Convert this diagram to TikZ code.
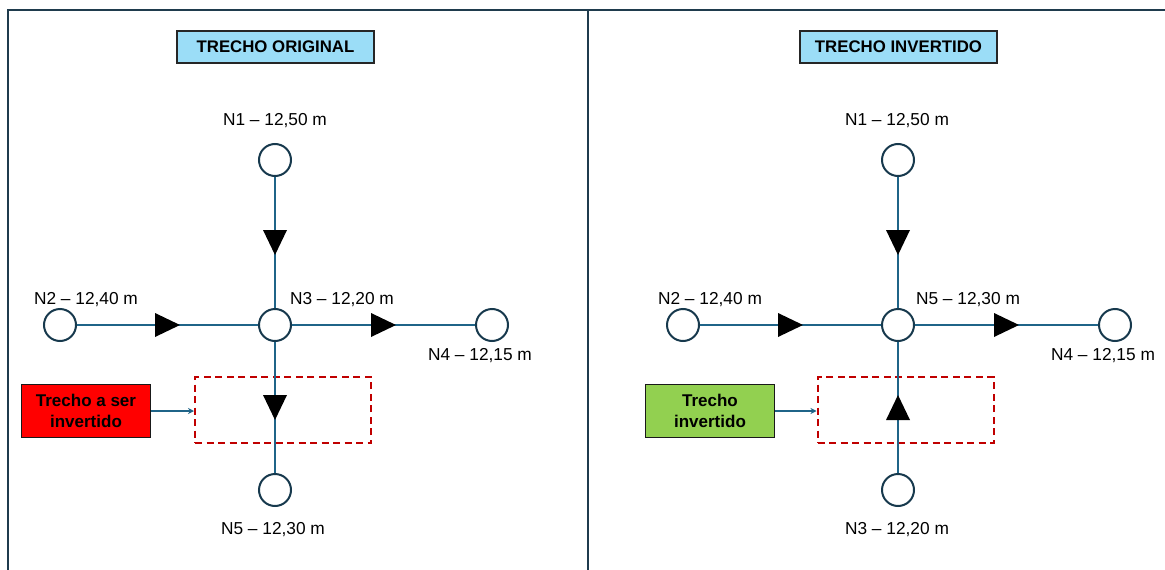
\documentclass[tikz,border=0pt]{standalone}
\usepackage{fontspec}
\setmainfont{Liberation Sans}
\usetikzlibrary{arrows.meta,decorations.markings}

\definecolor{framec}{HTML}{1F3B4D}
\definecolor{pipec}{HTML}{1F6488}
\definecolor{ringc}{HTML}{17394D}
\definecolor{titlefill}{HTML}{9BDDF7}
\definecolor{dashred}{HTML}{C00000}
\definecolor{callred}{HTML}{FF0000}
\definecolor{callgreen}{HTML}{92D050}

\tikzset{
  manhole/.style={circle, draw=ringc, line width=2pt, fill=white,
    minimum size=32pt, inner sep=0pt},
  pipe/.style={draw=pipec, line width=2pt,
    decoration={markings, mark=at position 0.5 with
      {\fill[black] (-12.5pt,-12pt) -- (12.5pt,0pt) -- (-12.5pt,12pt) -- cycle;}},
    postaction={decorate}},
  lbl/.style={font=\fontsize{17.3}{20}\selectfont, inner sep=0pt},
  titlebox/.style={draw=black!85, fill=titlefill, line width=1.2pt,
    minimum width=197pt, minimum height=32pt, inner sep=0pt,
    font=\fontsize{16.8}{19}\selectfont\bfseries},
  callbox/.style={draw=black!90, line width=1.5pt, minimum width=129pt,
    minimum height=53pt, inner sep=0pt, align=center,
    font=\fontsize{17}{21}\selectfont\bfseries},
  zone/.style={draw=dashred, line width=2pt, dash pattern=on 7pt off 4.5pt,
    minimum width=176pt, minimum height=66pt, inner sep=0pt},
  callarrow/.style={draw=pipec, line width=1.5pt,
    -{Stealth[length=6pt,width=6pt]}},
  frameline/.style={draw=framec, line width=2pt}
}

\begin{document}
\begin{tikzpicture}[x=1pt,y=-1pt]
\useasboundingbox (0,0) rectangle (1165,570);

% panel frame and divider
\draw[frameline] (8,570) -- (8,10) -- (1165,10);
\draw[frameline] (588,10) -- (588,570);

% ---------------- original layout ----------------
\node[titlebox] (tA) at (275.5,47) {TRECHO ORIGINAL};

\node[zone] (zA) at (283,410) {};

\node[manhole] (a1) at (275,160) {};
\node[manhole] (a2) at (60,325) {};
\node[manhole] (a3) at (275,325) {};
\node[manhole] (a4) at (492,325) {};
\node[manhole] (a5) at (275,490) {};

\draw[pipe] (a1) -- (a3);
\draw[pipe] (a2) -- (a3);
\draw[pipe] (a3) -- (a4);
\draw[pipe] (a3) -- (a5);

\node[lbl] (la1) at (275,121) {N1 – 12,50 m};
\node[lbl] (la2) at (86,300) {N2 – 12,40 m};
\node[lbl] (la3) at (342,300) {N3 – 12,20 m};
\node[lbl] (la4) at (480,356) {N4 – 12,15 m};
\node[lbl] (la5) at (273,530) {N5 – 12,30 m};

\node[callbox, fill=callred] (cA) at (86,411) {Trecho a ser\\invertido};
\draw[callarrow] (cA.east) -- (cA.east -| zA.west);

% ---------------- inverted layout ----------------
\node[titlebox] (tB) at (898.5,47) {TRECHO INVERTIDO};

\node[zone] (zB) at (905.5,410) {};

\node[manhole] (b1) at (898,160) {};
\node[manhole] (b2) at (683,325) {};
\node[manhole] (b5) at (898,325) {};
\node[manhole] (b4) at (1115,325) {};
\node[manhole] (b3) at (898,490) {};

\draw[pipe] (b1) -- (b5);
\draw[pipe] (b2) -- (b5);
\draw[pipe] (b5) -- (b4);
\draw[pipe] (b3) -- (b5);

\node[lbl] (lb1) at (897,121) {N1 – 12,50 m};
\node[lbl] (lb2) at (710,300) {N2 – 12,40 m};
\node[lbl] (lb5) at (968,300) {N5 – 12,30 m};
\node[lbl] (lb4) at (1103,356) {N4 – 12,15 m};
\node[lbl] (lb3) at (897,530) {N3 – 12,20 m};

\node[callbox, fill=callgreen] (cB) at (710,411) {Trecho\\invertido};
\draw[callarrow] (cB.east) -- (cB.east -| zB.west);
\end{tikzpicture}
\end{document}
